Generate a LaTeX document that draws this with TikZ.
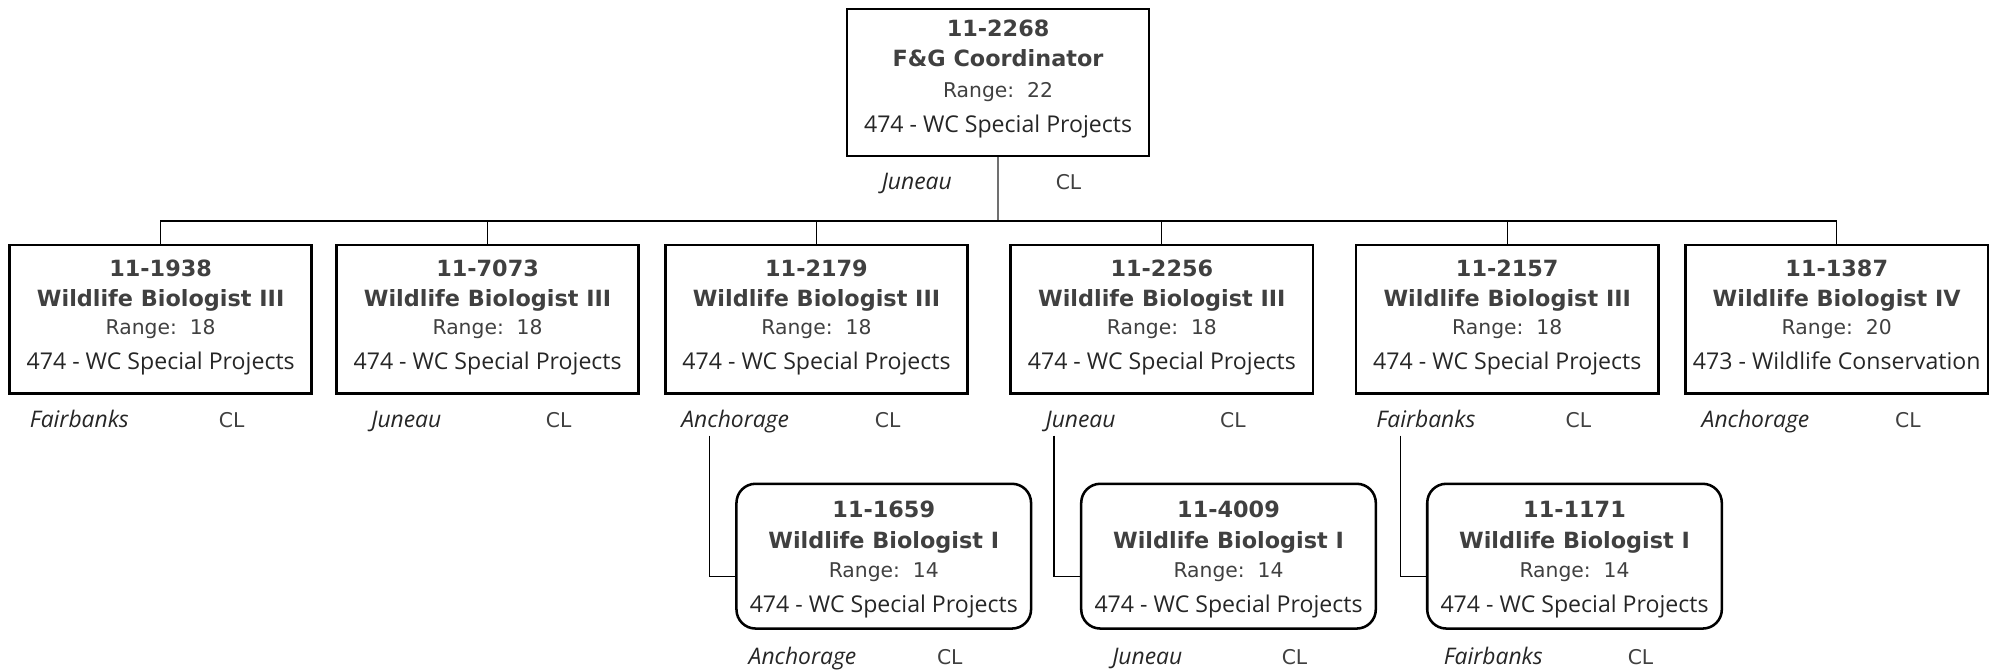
\documentclass[tikz,border=0pt]{standalone}
\usepackage{fontspec}
\setmainfont{Open Sans}
\newfontfamily\verd{DejaVu Sans}
\usetikzlibrary{calc}
\definecolor{txtgray}{HTML}{404040}
\definecolor{txtdark}{HTML}{262626}
\definecolor{conngray}{HTML}{707070}
\tikzset{
  posbox/.style={draw, line width=2pt, minimum width=238pt, minimum height=117pt, inner sep=0pt},
  subbox/.style={posbox, rounded corners=15pt, minimum width=232pt, minimum height=114pt},
  numtxt/.style={font=\verd\bfseries\fontsize{17.6}{20}\selectfont, text=txtgray, anchor=base, inner sep=0pt},
  ranktxt/.style={font=\verd\fontsize{16}{19}\selectfont, text=txtgray, anchor=base, inner sep=0pt},
  depttxt/.style={font=\fontsize{18.2}{21}\selectfont, text=txtdark, anchor=base, inner sep=0pt},
  loctxt/.style={font=\itshape\fontsize{18}{20}\selectfont, text=txtdark, anchor=base, inner sep=0pt},
  cltxt/.style={font=\verd\fontsize{16}{19}\selectfont, text=txtgray, anchor=base, inner sep=0pt},
  conn/.style={line width=1pt, draw=black},
  topconn/.style={line width=1.2pt, draw=conngray}
}
% name, num, title, range, dept, shift of first two lines, shift of last two lines
\newcommand\boxtext[7]{%
  \node[numtxt] (#1-num) at ($(#1.center)+(0,-34.6+#6)$) {#2};
  \node[numtxt] (#1-ttl) at ($(#1.center)+(0,-10.6+#6)$) {#3};
  \node[ranktxt] (#1-rng) at ($(#1.center)+(0,12+#7)$) {Range:\ \ #4};
  \node[depttxt] (#1-dpt) at ($(#1.center)+(0,39.4+#7)$) {#5};
}
\newcommand\loclabels[5]{%
  \node[loctxt] (#1-loc) at ($(#1.south west)+(#3,#5)$) {#2};
  \node[cltxt] (#1-cl) at ($(#1.south west)+(#4,#5)$) {CL};
}
\begin{document}
\begin{tikzpicture}[x=1pt,y=-1pt]
\useasboundingbox (0,0) rectangle (1568,528.5);
% top
\node[posbox, minimum height=116pt] (top) at (786,65) {};
\boxtext{top}{11-2268}{F\&G Coordinator}{22}{474 - WC Special Projects}{-2}{0}
\loclabels{top}{Juneau}{56}{175.5}{25}
% row 2
\node[posbox] (b1) at (126.5,251.5) {};
\node[posbox] (b2) at (384,251.5) {};
\node[posbox] (b3) at (643,251.5) {};
\node[posbox] (b4) at (915,251.5) {};
\node[posbox] (b5) at (1187,251.5) {};
\node[posbox] (b6) at (1446.5,251.5) {};
\boxtext{b1}{11-1938}{Wildlife Biologist III}{18}{474 - WC Special Projects}{0.5}{0}
\boxtext{b2}{11-7073}{Wildlife Biologist III}{18}{474 - WC Special Projects}{0.5}{0}
\boxtext{b3}{11-2179}{Wildlife Biologist III}{18}{474 - WC Special Projects}{0.5}{0}
\boxtext{b4}{11-2256}{Wildlife Biologist III}{18}{474 - WC Special Projects}{0.5}{0}
\boxtext{b5}{11-2157}{Wildlife Biologist III}{18}{474 - WC Special Projects}{0.5}{0}
\boxtext{b6}{11-1387}{Wildlife Biologist IV}{20}{473 - Wildlife Conservation}{0.5}{0}
\loclabels{b1}{Fairbanks}{56}{176}{25.5}
\loclabels{b2}{Juneau}{56}{176}{25.5}
\loclabels{b3}{Anchorage}{56}{176}{25.5}
\loclabels{b4}{Juneau}{56}{176}{25.5}
\loclabels{b5}{Fairbanks}{56}{176}{25.5}
\loclabels{b6}{Anchorage}{56}{176}{25.5}
% row 3
\node[subbox] (c1) at (696,438) {};
\node[subbox] (c2) at (967.5,438) {};
\node[subbox] (c3) at (1240,438) {};
\boxtext{c1}{11-1659}{Wildlife Biologist I}{14}{474 - WC Special Projects}{4.5}{5}
\boxtext{c2}{11-4009}{Wildlife Biologist I}{14}{474 - WC Special Projects}{4.5}{5}
\boxtext{c3}{11-1171}{Wildlife Biologist I}{14}{474 - WC Special Projects}{4.5}{5}
\loclabels{c1}{Anchorage}{53}{169}{27}
\loclabels{c2}{Juneau}{53}{169}{27}
\loclabels{c3}{Fairbanks}{53}{169}{27}
% connectors
\coordinate (bus) at (0,174);
\draw[topconn] (top.south) -- (top.south |- bus);
\draw[conn] (b1.north) -- (b1.north |- bus) -- (b6.north |- bus) -- (b6.north);
\foreach \b in {b2,b3,b4,b5} \draw[conn] (\b.north) -- (\b.north |- bus);
\coordinate (p3) at ($(b3.south west)+(36,32)$);
\coordinate (p4) at ($(b4.south west)+(35,32)$);
\coordinate (p5) at ($(b5.south west)+(36,32)$);
\draw[conn] (p3) |- ($(c1.west)+(0,16)$);
\draw[conn] (p4) |- ($(c2.west)+(0,16)$);
\draw[conn] (p5) |- ($(c3.west)+(0,16)$);
\end{tikzpicture}
\end{document}
